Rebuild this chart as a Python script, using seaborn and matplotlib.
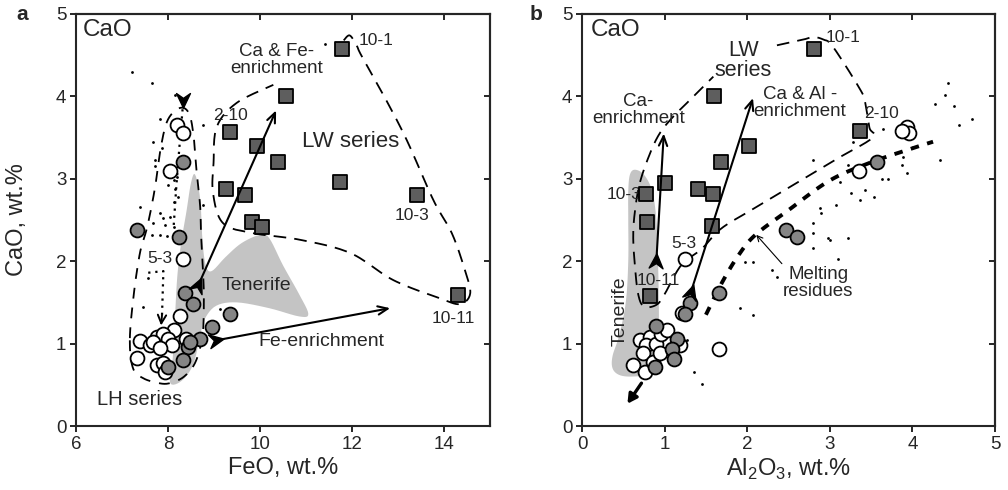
import numpy as np
import pandas as pd
import matplotlib
matplotlib.use("Agg")
import matplotlib.pyplot as plt
from matplotlib.markers import MarkerStyle
from matplotlib.path import Path
from matplotlib.transforms import Affine2D
import seaborn as sns

sns.set_style("ticks")
plt.rcParams['font.family'] = ['Liberation Sans', 'DejaVu Sans']
plt.rcParams['mathtext.fontset'] = 'custom'
plt.rcParams['mathtext.rm'] = 'Liberation Sans'

# ---------------- data: panel a (FeO vs CaO) ----------------
a_sq_feo = [11.78, 10.57, 9.35, 9.94, 10.40, 9.26, 9.67, 11.74, 13.42, 9.83, 10.05, 14.31]
a_sq_cao = [4.58, 4.00, 3.57, 3.40, 3.20, 2.88, 2.80, 2.96, 2.80, 2.48, 2.41, 1.59]
a_gc_feo = [8.33, 7.33, 8.24, 8.37, 8.55, 9.35, 8.95, 8.70, 8.43, 8.33, 8.01, 8.47]
a_gc_cao = [3.20, 2.38, 2.29, 1.61, 1.48, 1.36, 1.20, 1.06, 0.96, 0.80, 0.71, 1.02]
a_wc_feo = [8.19, 8.33, 8.04, 8.33, 8.25, 8.12, 7.75, 7.39, 7.61, 7.90, 8.01, 8.08,
            8.39, 7.33, 7.75, 7.90, 7.93, 7.68, 7.82]
a_wc_cao = [3.65, 3.55, 3.10, 2.03, 1.33, 1.17, 1.08, 1.03, 0.98, 1.12, 1.06, 0.98,
            1.06, 0.83, 0.74, 0.76, 0.66, 1.02, 0.95]
a_dot_feo = [7.21, 7.65, 8.15, 7.83, 8.77, 7.68, 7.86, 7.72, 7.72, 8.12, 8.01, 8.15,
             8.22, 8.12, 8.77, 7.39, 7.83, 7.90, 8.04, 7.68, 7.93, 8.12, 7.65, 7.83,
             7.97, 7.46, 9.13, 11.41, 7.57, 8.20]
a_dot_cao = [4.30, 4.16, 4.02, 3.73, 3.65, 3.45, 3.37, 3.23, 3.15, 2.99, 2.92, 2.88,
             2.78, 2.72, 2.68, 2.66, 2.59, 2.52, 2.54, 2.46, 2.44, 2.42, 2.32, 2.32,
             2.30, 1.45, 1.42, 4.64, 1.80, 3.02]

# ---------------- data: panel b (Al2O3 vs CaO) ----------------
b_sq_al = [2.81, 1.60, 3.36, 2.02, 1.68, 1.00, 1.41, 1.59, 0.77, 0.79, 1.57, 0.82]
b_sq_cao = [4.58, 4.00, 3.58, 3.40, 3.20, 2.95, 2.88, 2.81, 2.81, 2.47, 2.43, 1.58]
b_gc_al = [3.57, 2.47, 2.60, 1.66, 1.31, 1.25, 0.90, 1.15, 1.09, 1.11, 0.88]
b_gc_cao = [3.20, 2.38, 2.29, 1.61, 1.49, 1.36, 1.21, 1.06, 0.94, 0.81, 0.71]
b_wc_al = [3.93, 3.96, 3.88, 3.35, 1.25, 1.66, 1.21, 0.70, 0.82, 0.78, 0.74, 0.62,
           0.76, 0.86, 0.90, 0.96, 1.03, 1.19, 0.94]
b_wc_cao = [3.63, 3.55, 3.58, 3.10, 2.03, 0.93, 1.37, 1.04, 1.08, 0.98, 0.88, 0.74,
            0.66, 0.78, 1.00, 1.12, 1.17, 0.98, 0.88]
b_dot_al = [4.43, 4.40, 4.50, 4.27, 4.72, 4.57, 3.65, 3.28, 4.01, 3.89, 4.33, 2.80,
            3.22, 3.87, 3.93, 3.12, 3.63, 3.71, 3.26, 3.43, 3.37, 3.53, 3.08, 2.88,
            2.89, 2.80, 3.22, 2.98, 2.80, 3.00, 2.80, 3.10, 1.97, 2.07, 2.30, 2.36,
            1.91, 2.07, 1.27, 1.35, 1.45]
b_dot_cao = [4.16, 4.02, 3.88, 3.91, 3.73, 3.65, 3.61, 3.45, 3.39, 3.27, 3.23, 3.23,
             3.17, 3.17, 3.07, 2.96, 3.00, 3.00, 2.83, 2.86, 2.74, 2.78, 2.68, 2.64,
             2.59, 2.46, 2.28, 2.28, 2.34, 2.26, 2.16, 2.03, 1.99, 1.99, 1.89, 1.81,
             1.43, 1.35, 1.04, 0.66, 0.51]

# ---------------- outlines / fields ----------------
a_tenerife = [(8.59, 3.05), (8.70, 2.75), (8.75, 2.25), (8.82, 1.95), (8.95, 1.88),
              (9.25, 2.05), (9.6, 2.22), (10.0, 2.32), (10.2, 2.28), (10.5, 1.95),
              (10.85, 1.6), (11.05, 1.36), (10.85, 1.33), (10.2, 1.43), (9.5, 1.5),
              (9.05, 1.46), (8.8, 1.3), (8.7, 1.1), (8.55, 0.75), (8.3, 0.55),
              (8.05, 0.52), (8.1, 0.8), (8.15, 1.3), (8.2, 1.8), (8.28, 2.2),
              (8.4, 2.6), (8.5, 2.95)]
a_lw_outline = [(11.82, 4.68), (11.95, 4.74), (12.1, 4.62), (12.2, 4.5), (12.7, 4.0),
                (13.19, 3.47), (13.77, 2.74), (14.17, 2.34), (14.45, 1.9), (14.57, 1.61),
                (14.35, 1.48), (13.91, 1.55), (12.9, 1.77), (11.96, 2.10), (10.87, 2.26),
                (9.85, 2.34), (9.2, 2.46), (8.98, 2.82), (8.99, 3.19), (9.06, 3.63),
                (9.49, 3.92), (10.29, 4.14)]
a_lh_outline = [(7.17, 1.04), (7.24, 0.70), (7.46, 0.58), (7.8, 0.52), (8.04, 0.52),
                (8.35, 0.6), (8.6, 0.78), (8.75, 1.1), (8.78, 1.5), (8.77, 1.77),
                (8.72, 2.3), (8.70, 2.66), (8.62, 3.1), (8.55, 3.55), (8.45, 3.8),
                (8.26, 3.86), (8.0, 3.72), (7.85, 3.4), (7.72, 2.9), (7.55, 2.42),
                (7.39, 2.1), (7.25, 1.57)]
a_dotted_upper = [(8.33, 3.93), (8.25, 3.4), (8.18, 2.9), (8.12, 2.4)]
a_dotted_lower = [(7.57, 1.86), (7.9, 1.88), (7.87, 1.35)]

b_tenerife = [(0.64, 3.11), (0.75, 3.05), (0.85, 2.85), (0.9, 2.5), (0.92, 2.0),
              (0.93, 1.5), (0.93, 1.0), (0.92, 0.75), (0.8, 0.63), (0.6, 0.6),
              (0.45, 0.62), (0.37, 0.7), (0.37, 0.85), (0.45, 1.1), (0.53, 1.5),
              (0.56, 2.0), (0.56, 2.5), (0.56, 2.85), (0.58, 3.05)]
b_lw_outline = [(2.36, 4.62), (2.68, 4.69), (2.8, 4.72), (2.92, 4.69), (3.04, 4.6),
                (3.37, 4.08), (3.43, 3.92), (3.48, 3.62), (3.52, 3.50), (3.1, 3.25),
                (2.6, 2.95), (2.1, 2.65), (1.69, 2.40), (1.45, 2.15), (1.2, 1.95),
                (1.0, 1.6), (0.9, 1.47), (0.75, 1.45), (0.68, 1.6), (0.64, 1.95),
                (0.62, 2.3), (0.64, 2.6), (0.7, 2.95), (0.82, 3.3), (0.94, 3.55),
                (1.1, 3.75), (1.27, 3.92), (1.59, 4.24)]
b_melting = [(1.5, 1.35), (1.7, 1.75), (1.9, 2.08), (2.1, 2.32), (2.5, 2.62),
             (3.0, 2.98), (3.5, 3.2), (4.0, 3.37), (4.25, 3.45)]


def smooth(pts, closed=False, n=14):
    P = np.asarray(pts, float)
    if closed:
        E = np.vstack([P[-1], P, P[0], P[1]])
    else:
        E = np.vstack([P[0], P, P[-1]])
    out = []
    for i in range(1, len(E) - 2):
        p0, p1, p2, p3 = E[i - 1:i + 3]
        for t in np.linspace(0, 1, n, endpoint=False):
            t2, t3 = t * t, t * t * t
            out.append(0.5 * (2 * p1 + (-p0 + p2) * t + (2 * p0 - 5 * p1 + 4 * p2 - p3) * t2
                              + (-p0 + 3 * p1 - 3 * p2 + p3) * t3))
    out.append(E[-2])
    return np.array(out)


fig = plt.figure(figsize=(10.08, 4.9), dpi=100)
axA = fig.add_axes([76 / 1008, 64 / 490, 414 / 1008, 412 / 490])
axB = fig.add_axes([582 / 1008, 64 / 490, 413 / 1008, 412 / 490])

axA.set_xlim(6, 15)
axA.set_ylim(0, 5)
axB.set_xlim(0, 5)
axB.set_ylim(0, 5)

SQ_C = '#5e5e5e'
GC_C = '#858585'
TEN_C = '#c4c4c4'
DASH = (7, 4.5)


def style_axes(ax, xticks):
    ax.set_xticks(xticks)
    ax.set_yticks([0, 1, 2, 3, 4, 5])
    for s in ax.spines.values():
        s.set_linewidth(1.5)
        s.set_visible(True)
    ax.tick_params(direction='out', length=4, width=1.4, labelsize=13.5, pad=3)
    sx = ax.secondary_xaxis('top')
    sx.set_xticks(xticks)
    sx.tick_params(direction='in', length=4, width=1.4, labeltop=False)
    sx.spines['top'].set_linewidth(1.5)
    sy = ax.secondary_yaxis('right')
    sy.set_yticks([0, 1, 2, 3, 4, 5])
    sy.tick_params(direction='in', length=4, width=1.4, labelright=False)
    sy.spines['right'].set_linewidth(1.5)


style_axes(axA, [6, 8, 10, 12, 14])
style_axes(axB, [0, 1, 2, 3, 4, 5])
axA.set_yticklabels(['0', '1', '2', '3', '4', '5'])
axB.set_yticklabels(['0', '1', '2', '3', '4', '5'])


def chevron(ax, x, y, angle_to):
    p0 = ax.transData.transform((x, y))
    p1 = ax.transData.transform(angle_to)
    ang = np.degrees(np.arctan2(p1[1] - p0[1], p1[0] - p0[0]))
    verts = [(0.55, 0), (-0.5, 0.5), (-0.15, 0), (-0.5, -0.5), (0.55, 0)]
    codes = [Path.MOVETO, Path.LINETO, Path.LINETO, Path.LINETO, Path.CLOSEPOLY]
    m = MarkerStyle(Path(verts, codes), transform=Affine2D().rotate_deg(ang))
    ax.plot([x], [y], marker=m, markersize=11, color='black', zorder=7, linestyle='none')


def arrow(ax, tail, head, lw=1.5, style='->,head_length=0.7,head_width=0.3', z=6):
    ax.annotate('', xy=head, xytext=tail,
                arrowprops=dict(arrowstyle=style, lw=lw, color='black',
                                shrinkA=0, shrinkB=0), zorder=z)


def points(ax, dx, dy, sx, sy, gx, gy, wx, wy):
    sns.scatterplot(x=dx, y=dy, ax=ax, color='black', s=4, linewidth=0, zorder=3, legend=False)
    sns.scatterplot(x=wx, y=wy, ax=ax, color='white', edgecolor='black', s=100,
                    linewidth=1.3, zorder=4, legend=False)
    sns.scatterplot(x=gx, y=gy, ax=ax, color=GC_C, edgecolor='black', s=100,
                    linewidth=1.3, zorder=4, legend=False)
    sns.scatterplot(x=sx, y=sy, ax=ax, marker='s', color=SQ_C, edgecolor='black', s=115,
                    linewidth=1.3, zorder=5, legend=False)


# ---------------- panel a ----------------
ax = axA
ten = smooth(a_tenerife, closed=True, n=6)
ax.fill(ten[:, 0], ten[:, 1], color=TEN_C, lw=0, zorder=1)
c = smooth(a_lw_outline, closed=False)
ax.plot(c[:, 0], c[:, 1], color='black', lw=1.3, dashes=DASH, zorder=2)
c = smooth(a_lh_outline, closed=True)
ax.plot(c[:, 0], c[:, 1], color='black', lw=1.3, dashes=(6, 5), zorder=2)
c = np.array(a_dotted_upper)
ax.plot(c[:, 0], c[:, 1], color='black', lw=1.6, dashes=(1, 2.2), zorder=2)
c = np.array(a_dotted_lower)
ax.plot(c[:, 0], c[:, 1], color='black', lw=1.6, dashes=(1, 2.2), zorder=2)
arrow(ax, a_dotted_lower[-1], (7.85, 1.22), lw=1.4, style='->,head_length=0.6,head_width=0.3')

points(ax, a_dot_feo, a_dot_cao, a_sq_feo, a_sq_cao, a_gc_feo, a_gc_cao,
       a_wc_feo, a_wc_cao)

arrow(ax, (8.66, 1.71), (10.35, 3.83))
arrow(ax, (9.05, 1.04), (12.83, 1.43))
chevron(ax, 8.66, 1.71, (10.35, 3.83))
chevron(ax, 9.05, 1.04, (12.83, 1.43))
chevron(ax, 8.33, 3.96, (8.33, 3.0))

ax.text(6.15, 4.8, 'CaO', fontsize=17.5, ha='left', va='center')
ax.text(10.36, 4.44, 'Ca & Fe-\nenrichment', fontsize=13.5, ha='center', va='center',
        linespacing=1.0)
ax.text(9.36, 3.77, '2-10', fontsize=12.5, ha='center', va='center')
ax.text(11.96, 3.45, 'LW series', fontsize=16, ha='center', va='center')
ax.text(12.53, 4.68, '10-1', fontsize=12.5, ha='center', va='center')
ax.text(13.3, 2.56, '10-3', fontsize=12.5, ha='center', va='center')
ax.text(14.2, 1.31, '10-11', fontsize=12.5, ha='center', va='center')
ax.text(7.83, 2.03, '5-3', fontsize=12.5, ha='center', va='center')
ax.text(9.93, 1.71, 'Tenerife', fontsize=14, ha='center', va='center')
ax.text(11.34, 1.02, 'Fe-enrichment', fontsize=14, ha='center', va='center')
ax.text(7.39, 0.32, 'LH series', fontsize=14.5, ha='center', va='center')
ax.set_xlabel('FeO, wt.%', fontsize=17, labelpad=3)
ax.set_ylabel('CaO, wt.%', fontsize=17)
ax.yaxis.set_label_coords((28 - 76) / 414, 0.5)

# ---------------- panel b ----------------
ax = axB
ten = smooth(b_tenerife, closed=True, n=8)
ax.fill(ten[:, 0], ten[:, 1], color=TEN_C, lw=0, zorder=1)
c = smooth(b_lw_outline, closed=False)
ax.plot(c[:, 0], c[:, 1], color='black', lw=1.3, dashes=DASH, zorder=2)
c = smooth(b_melting, closed=False)
ax.plot(c[:, 0], c[:, 1], color='black', lw=2.8, dashes=(2.2, 2.2), zorder=2)

points(ax, b_dot_al, b_dot_cao, b_sq_al, b_sq_cao, b_gc_al, b_gc_cao,
       b_wc_al, b_wc_cao)

arrow(ax, (0.90, 2.0), (0.99, 3.55))
arrow(ax, (1.32, 1.63), (2.07, 3.98))
chevron(ax, 0.90, 2.0, (0.99, 3.55))
chevron(ax, 1.32, 1.63, (2.07, 3.98))
arrow(ax, (0.72, 0.52), (0.55, 0.27), lw=2.4, style='-|>,head_length=0.55,head_width=0.3')
arrow(ax, (2.42, 1.97), (2.11, 2.32), lw=0.8, style='->,head_length=0.4,head_width=0.2')

ax.text(0.1, 4.8, 'CaO', fontsize=17.5, ha='left', va='center')
ax.text(1.95, 4.44, 'LW\nseries', fontsize=15.5, ha='center', va='center', linespacing=0.95)
ax.text(0.68, 3.83, 'Ca-\nenrichment', fontsize=13.5, ha='center', va='center',
        linespacing=1.0)
ax.text(2.64, 3.92, 'Ca & Al -\nenrichment', fontsize=13.5, ha='center', va='center',
        linespacing=1.0)
ax.text(3.63, 3.79, '2-10', fontsize=12.5, ha='center', va='center')
ax.text(3.16, 4.72, '10-1', fontsize=12.5, ha='center', va='center')
ax.text(0.72, 2.81, '10-3', fontsize=12.5, ha='right', va='center')
ax.text(1.23, 2.22, '5-3', fontsize=12.5, ha='center', va='center')
ax.text(0.92, 1.77, '10-11', fontsize=12.5, ha='center', va='center')
ax.text(2.86, 1.73, 'Melting\nresidues', fontsize=13.5, ha='center', va='center',
        linespacing=1.0)
ax.text(0.46, 1.39, 'Tenerife', fontsize=14, ha='center', va='center', rotation=90)
ax.set_xlabel(r'Al$_\mathrm{2}$O$_\mathrm{3}$, wt.%', fontsize=17, labelpad=3)
ax.set_ylabel('')

fig.text(22 / 1008, 1 - 14 / 490, 'a', fontsize=15, fontweight='bold', ha='center', va='center')
fig.text(536 / 1008, 1 - 14 / 490, 'b', fontsize=15, fontweight='bold', ha='center', va='center')

fig.savefig('out.png', dpi=100)
